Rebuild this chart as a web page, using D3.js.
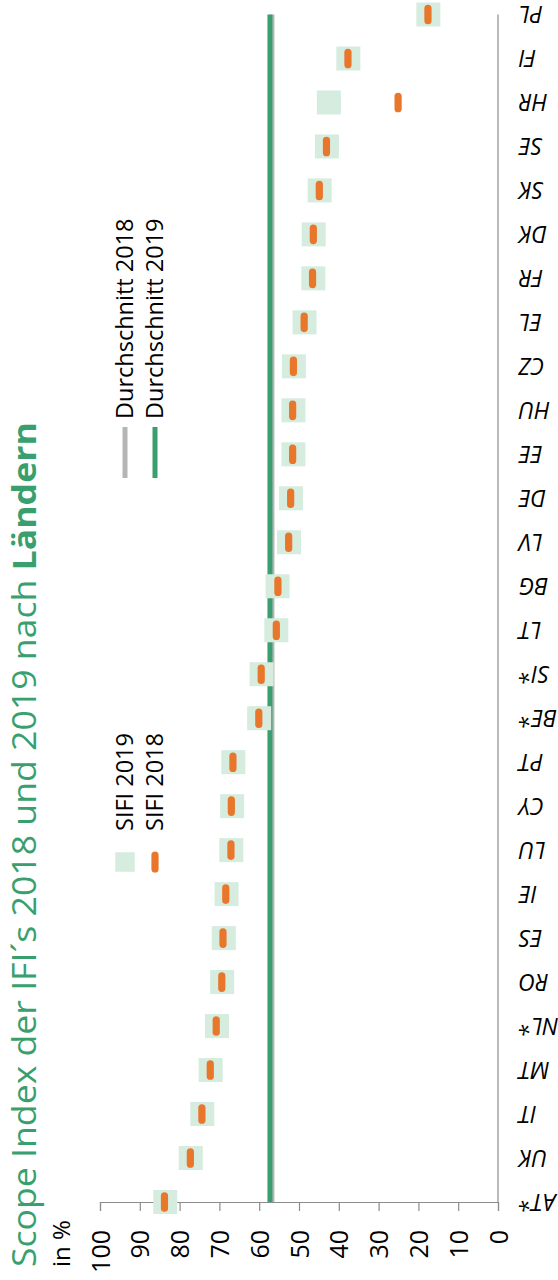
<!DOCTYPE html>
<html>
<head>
<meta charset="utf-8">
<script src="https://cdn.jsdelivr.net/npm/d3@7"></script>
<style>
  html, body { margin: 0; padding: 0; background: #fff; }
  svg { display: block; font-family: "Open Sans", sans-serif; }
</style>
</head>
<body>
<script>
// ---- data (chart order: first category at bottom) ----
const countries = ["AT*","UK","IT","MT","NL*","RO","ES","IE","LU","CY","PT","BE*","SI*","LT","BG","LV","DE","EE","HU","CZ","EL","FR","DK","SK","SE","HR","FI","PL"];
const sifi2019 = [83.6,77.2,74.3,72.2,70.6,69.3,68.9,68.2,67.0,66.8,66.5,60.0,59.4,55.7,55.4,52.5,52.0,51.4,51.4,51.3,48.6,46.4,46.3,44.8,43.0,42.5,37.6,17.5];
const sifi2018 = [83.8,77.3,74.4,72.3,70.8,69.4,69.1,68.4,67.1,67.0,66.6,60.1,59.5,55.7,55.3,52.6,52.1,51.6,51.6,51.4,48.7,46.6,46.4,44.9,43.1,25.1,37.7,17.6];
const avg2018 = 56.8;
const avg2019 = 57.3;
const tickValues = [0,10,20,30,40,50,60,70,80,90,100];
const titleMain = "Scope Index der IFI´s 2018 und 2019 nach ";
const titleBold = "Ländern";
const unitLabel = "in %";
const legendItems = ["SIFI 2019","SIFI 2018","Durchschnitt 2018","Durchschnitt 2019"];

// ---- layout ----
const W = 558, H = 1280;
const C_GREEN = "#3a9f6e", C_LIGHT = "#d5ecdf", C_ORANGE = "#e8762b", C_GREY = "#b5b5b5", C_AXIS = "#8c8c8c";

const svg = d3.select("body").append("svg").attr("width", W).attr("height", H);

const x = d3.scaleLinear().domain([0, 100]).range([498, 100]);
const y = d3.scalePoint().domain(countries).range([1202, 14.5]);
const axisY = 1202;

// title
const title = svg.append("text")
  .attr("transform", "translate(36,1267) rotate(-90) scale(1.08,1)")
  .attr("font-size", 33).attr("fill", C_GREEN);
title.append("tspan").text(titleMain);
title.append("tspan").attr("font-weight", "bold").text(titleBold);

// unit label
svg.append("text")
  .attr("transform", "translate(70,1267) rotate(-90)")
  .attr("font-size", 24).attr("fill", "#000")
  .text(unitLabel);

// value axis
const gx = svg.append("g").attr("transform", `translate(0,${axisY})`)
  .call(d3.axisBottom(x).tickValues(tickValues).tickSize(9).tickSizeOuter(9).tickFormat(d3.format("d")));
gx.selectAll("path, line").attr("stroke", C_AXIS).attr("stroke-width", 1.2);
gx.selectAll("text")
  .attr("transform", "rotate(-90)")
  .attr("x", -(1230 - axisY)).attr("y", 0).attr("dy", "0.36em")
  .attr("text-anchor", "end")
  .attr("font-size", 25).attr("font-family", "Open Sans, sans-serif").attr("fill", "#000");

// category axis line
svg.append("line")
  .attr("x1", x(0)).attr("x2", x(0))
  .attr("y1", y(countries[countries.length - 1])).attr("y2", y(countries[0]))
  .attr("stroke", C_AXIS).attr("stroke-width", 1.2);

// category labels (upside down, italic)
svg.append("g").selectAll("text").data(countries).join("text")
  .attr("transform", d => `translate(519,${y(d)}) rotate(180)`)
  .attr("text-anchor", "end").attr("dy", "0.36em")
  .attr("font-size", 23).attr("font-style", "italic").attr("fill", "#000")
  .text(d => d);

// average lines
const yTop = y(countries[countries.length - 1]), yBot = y(countries[0]);
svg.append("line").attr("x1", x(avg2018)).attr("x2", x(avg2018)).attr("y1", yTop).attr("y2", yBot)
  .attr("stroke", C_GREY).attr("stroke-width", 5);
svg.append("line").attr("x1", x(avg2019)).attr("x2", x(avg2019)).attr("y1", yTop).attr("y2", yBot)
  .attr("stroke", C_GREEN).attr("stroke-width", 5);

// 2019 squares
const SQ = 24;
svg.append("g").selectAll("rect").data(countries).join("rect")
  .attr("x", (d, i) => x(sifi2019[i]) - SQ / 2)
  .attr("y", d => y(d) - SQ / 2)
  .attr("width", SQ).attr("height", SQ)
  .attr("fill", C_LIGHT);

// 2018 markers
svg.append("g").selectAll("rect").data(countries).join("rect")
  .attr("x", (d, i) => x(sifi2018[i]) - 3.6)
  .attr("y", d => y(d) - 9.8)
  .attr("width", 7.2).attr("height", 19.6).attr("rx", 3.6)
  .attr("fill", C_ORANGE);

// legend
const lg = svg.append("g");
lg.append("rect").attr("x", 125 - 9.75).attr("y", 862 - 9.75).attr("width", 19.5).attr("height", 19.5).attr("fill", C_LIGHT);
lg.append("rect").attr("x", 155 - 3.6).attr("y", 862 - 10.5).attr("width", 7.2).attr("height", 21).attr("rx", 3.6).attr("fill", C_ORANGE);
lg.append("line").attr("x1", 125).attr("x2", 125).attr("y1", 427).attr("y2", 478).attr("stroke", C_GREY).attr("stroke-width", 5);
lg.append("line").attr("x1", 155).attr("x2", 155).attr("y1", 427).attr("y2", 478).attr("stroke", C_GREEN).attr("stroke-width", 5);
const legendPos = [[125, 831], [155, 831], [125, 419], [155, 419]];
legendItems.forEach((t, i) => {
  lg.append("text")
    .attr("transform", `translate(${legendPos[i][0]},${legendPos[i][1]}) rotate(-90)`)
    .attr("dy", "0.36em").attr("font-size", 23.5).attr("fill", "#000")
    .text(t);
});
</script>
</body>
</html>
